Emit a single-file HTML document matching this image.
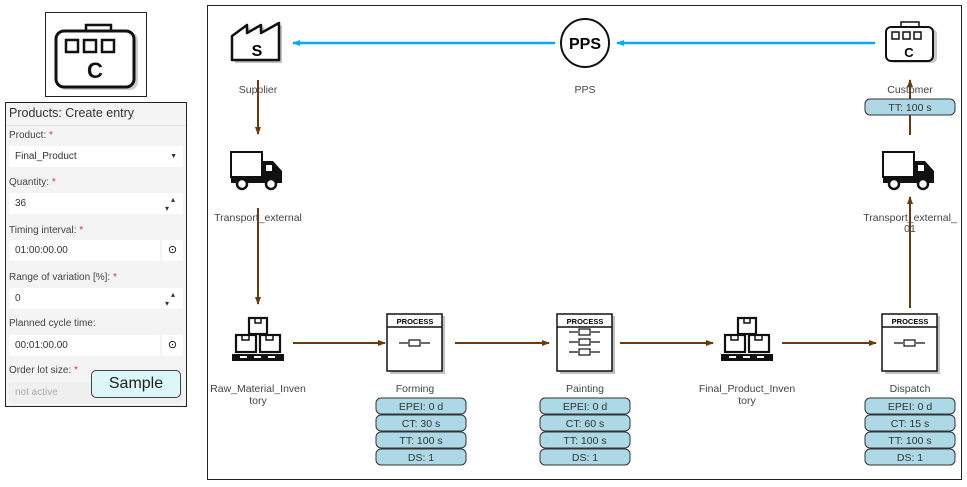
<!DOCTYPE html>
<html><head><meta charset="utf-8"><style>
body{margin:0;width:967px;height:487px;background:#fff;position:relative;overflow:hidden;font-family:"Liberation Sans",sans-serif}
.abs{position:absolute}
.panel{left:5px;top:102px;width:180px;height:303px;border:1px solid #222;background:#f4f4f4}
.lbl{position:absolute;left:3px;font-size:10px;color:#444}
.lbl b{color:#d33;font-weight:normal}
.inp{position:absolute;left:3px;width:174px;height:21px;background:#fff;border-radius:2px;font-size:10px;color:#333;line-height:21px;text-indent:6px}
.btn{position:absolute;left:156px;width:21px;height:21px;background:#fff;border-radius:2px;font-size:11px;text-align:center;line-height:21px}
</style></head><body>
<div class="abs" style="left:45px;top:12px;width:100px;height:83px;border:1px solid #222;background:#fff">
<svg width="100" height="83" viewBox="0 0 100 83">
<rect x="40" y="12" width="25" height="8" fill="#fff" stroke="#111" stroke-width="2.5"/>
<rect x="13" y="19" width="79" height="58" rx="8" fill="#888" opacity="0.4"/>
<rect x="10" y="18" width="78" height="56" rx="8" fill="#fff" stroke="#111" stroke-width="3"/>
<rect x="20" y="27" width="12" height="12" fill="#fff" stroke="#111" stroke-width="2.5"/>
<rect x="38" y="27" width="12" height="12" fill="#fff" stroke="#111" stroke-width="2.5"/>
<rect x="56" y="27" width="12" height="12" fill="#fff" stroke="#111" stroke-width="2.5"/>
<text x="49" y="65" font-size="22" font-weight="bold" text-anchor="middle" fill="#111" font-family="Liberation Sans">C</text>
</svg></div>
<div class="abs panel">
<div class="abs" style="left:3px;top:3px;font-size:12.5px;color:#333">Products: Create entry</div>
<div class="abs" style="left:0;top:22px;width:180px;height:1px;background:#e2e2e2"></div>
<div class="lbl" style="top:27px">Product: <b>*</b></div>
<div class="inp" style="top:43px">Final_Product<span style="position:absolute;right:6px;font-size:7px">▼</span></div>
<div class="lbl" style="top:74px">Quantity: <b>*</b></div>
<div class="inp" style="top:90px">36<span style="position:absolute;right:8px;font-size:8px;line-height:9px;top:2px">▴<br>▾</span></div>
<div class="lbl" style="top:122px">Timing interval: <b>*</b></div>
<div class="inp" style="top:137px;width:151px">01:00:00.00</div><div class="btn" style="top:137px">⊙</div>
<div class="lbl" style="top:169px">Range of variation [%]: <b>*</b></div>
<div class="inp" style="top:185px">0<span style="position:absolute;right:8px;font-size:8px;line-height:9px;top:2px">▴<br>▾</span></div>
<div class="lbl" style="top:215px">Planned cycle time:</div>
<div class="inp" style="top:232px;width:151px">00:01:00.00</div><div class="btn" style="top:232px">⊙</div>
<div class="lbl" style="top:262px">Order lot size: <b>*</b></div>
<div class="inp" style="top:279px;color:#aaa;background:#f0f0f0">not active</div>
<div class="abs" style="left:85px;top:267px;width:88px;height:26px;background:#dcf7f7;border:1px solid #444;border-radius:5px;font-size:16px;text-align:center;line-height:26px;color:#222">Sample</div>
</div>
<svg class="abs" style="left:0;top:0" width="967" height="487" viewBox="0 0 967 487" font-family="Liberation Sans" font-size="10.5">
<defs>
<marker id="b" markerWidth="8" markerHeight="8" refX="7" refY="4" orient="auto" markerUnits="userSpaceOnUse"><path d="M0,1 L8,4 L0,7z" fill="#0af"/></marker>
<marker id="r" markerWidth="8" markerHeight="8" refX="7" refY="4" orient="auto" markerUnits="userSpaceOnUse"><path d="M0,1 L8,4 L0,7z" fill="#6b3a0c"/></marker>
<g id="proc"><rect x="-25" y="-27" width="55" height="58" fill="#777" opacity=".45"/><rect x="-28" y="-29" width="55" height="57" fill="#fff" stroke="#111" stroke-width="1.5"/><line x1="-28" y1="-16" x2="27" y2="-16" stroke="#111" stroke-width="1.5"/><text x="0" y="-19" font-size="7.5" font-weight="bold" text-anchor="middle">PROCESS</text></g>
<g id="inv"><g fill="#fff" stroke="#111" stroke-width="2.2"><rect x="-9" y="-25" width="18" height="16"/><rect x="-22" y="-8" width="20" height="17"/><rect x="2" y="-8" width="20" height="17"/></g><rect x="-26" y="11" width="52" height="7" fill="#111"/><g fill="#fff"><rect x="-18" y="13" width="7" height="2"/><rect x="-4" y="13" width="7" height="2"/><rect x="10" y="13" width="7" height="2"/></g><path d="M-3,-25v5h6v-5M-16,-8v5h7v-5M8,-8v5h7v-5" fill="none" stroke="#111" stroke-width="1.5"/></g>
<g id="truck"><rect x="-26" y="-18" width="31" height="25" fill="#fff" stroke="#111" stroke-width="2"/><path d="M5,-9 H16 L25,1 V13 H-26 V7 H5z" fill="#111"/><rect x="9" y="-5" width="6" height="6" fill="#fff"/><circle cx="-15" cy="14" r="5" fill="#fff" stroke="#111" stroke-width="2.5"/><circle cx="14" cy="14" r="5" fill="#fff" stroke="#111" stroke-width="2.5"/></g>
<g id="pill"><rect x="-45" y="0" width="90" height="16" rx="5" fill="#add8e6" stroke="#333"/></g>
</defs>
<rect x="207.5" y="5.5" width="754" height="474" fill="none" stroke="#222"/>
<line x1="555" y1="43" x2="293" y2="43" stroke="#0af" stroke-width="2.5" marker-end="url(#b)"/>
<line x1="875" y1="43" x2="617" y2="43" stroke="#0af" stroke-width="2.5" marker-end="url(#b)"/>
<g stroke="#6b3a0c" stroke-width="2">
<line x1="258" y1="80" x2="258" y2="134" marker-end="url(#r)"/>
<line x1="258" y1="208" x2="258" y2="304" marker-end="url(#r)"/>
<line x1="293" y1="343" x2="385" y2="343" marker-end="url(#r)"/>
<line x1="455" y1="343" x2="549" y2="343" marker-end="url(#r)"/>
<line x1="620" y1="343" x2="713" y2="343" marker-end="url(#r)"/>
<line x1="782" y1="343" x2="876" y2="343" marker-end="url(#r)"/>
<line x1="910" y1="308" x2="910" y2="197" marker-end="url(#r)"/>
<line x1="910" y1="135" x2="910" y2="80" marker-end="url(#r)"/>
</g>
<!-- supplier -->
<path d="M235,38 L250,27 V35 L264,27 V35 L282,25 V63 H235z" fill="#777" opacity=".45"/>
<path d="M232,36 L247,25 V33 L261,25 V33 L279,23 V60 H232z" fill="#fff" stroke="#111" stroke-width="2.5" stroke-linejoin="round"/>
<text x="257" y="56" font-size="16" font-weight="bold" text-anchor="middle">S</text>
<!-- PPS -->
<circle cx="585" cy="43" r="24" fill="#fff" stroke="#111" stroke-width="2"/>
<text x="585" y="49" font-size="16" font-weight="bold" text-anchor="middle">PPS</text>
<!-- customer -->
<rect x="901" y="22" width="18" height="6" fill="#fff" stroke="#111" stroke-width="1.5"/>
<rect x="889" y="29" width="48" height="34" rx="5" fill="#888" opacity=".45"/>
<rect x="886" y="27" width="47" height="34" rx="5" fill="#fff" stroke="#111" stroke-width="2"/>
<rect x="892" y="32" width="7" height="7" fill="#fff" stroke="#111" stroke-width="1.5"/>
<rect x="903" y="32" width="7" height="7" fill="#fff" stroke="#111" stroke-width="1.5"/>
<rect x="914" y="32" width="7" height="7" fill="#fff" stroke="#111" stroke-width="1.5"/>
<text x="909" y="57" font-size="13" font-weight="bold" text-anchor="middle">C</text>
<use href="#truck" x="257" y="170"/>
<use href="#truck" x="909" y="170"/>
<use href="#inv" x="258" y="343"/>
<use href="#inv" x="747" y="343"/>
<use href="#proc" x="415" y="343"/><use href="#proc" x="585" y="343"/><use href="#proc" x="910" y="343"/>
<g fill="none" stroke="#111" stroke-width="1.2">
<rect x="409" y="340" width="11" height="6"/><path d="M399,343h9M421,343h9"/>
<rect x="904" y="340" width="11" height="6"/><path d="M894,343h9M916,343h9"/>
<rect x="579" y="329" width="11" height="6"/><rect x="579" y="339" width="11" height="6"/><rect x="579" y="349" width="11" height="6"/>
<path d="M569,332h9M591,332h9M569,342h9M591,342h9M569,352h9M591,352h9"/>
</g>
<g fill="#444" text-anchor="middle">
<text x="258" y="93">Supplier</text><text x="585" y="93">PPS</text><text x="910" y="93">Customer</text>
<text x="258" y="221">Transport_external</text><text x="910" y="221">Transport_external_</text><text x="910" y="232">01</text>
<text x="258" y="392">Raw_Material_Inven</text><text x="258" y="404">tory</text>
<text x="415" y="392">Forming</text><text x="585" y="392">Painting</text>
<text x="747" y="392">Final_Product_Inven</text><text x="747" y="404">tory</text><text x="910" y="392">Dispatch</text>
</g>
<use href="#pill" x="910" y="99"/><text x="910" y="111" text-anchor="middle" fill="#333">TT: 100 s</text>
<g text-anchor="middle" fill="#333">
<use href="#pill" x="421" y="398"/><use href="#pill" x="421" y="415"/><use href="#pill" x="421" y="432"/><use href="#pill" x="421" y="449"/>
<text x="421" y="410">EPEI: 0 d</text><text x="421" y="427">CT: 30 s</text><text x="421" y="444">TT: 100 s</text><text x="421" y="461">DS: 1</text>
<use href="#pill" x="585" y="398"/><use href="#pill" x="585" y="415"/><use href="#pill" x="585" y="432"/><use href="#pill" x="585" y="449"/>
<text x="585" y="410">EPEI: 0 d</text><text x="585" y="427">CT: 60 s</text><text x="585" y="444">TT: 100 s</text><text x="585" y="461">DS: 1</text>
<use href="#pill" x="910" y="398"/><use href="#pill" x="910" y="415"/><use href="#pill" x="910" y="432"/><use href="#pill" x="910" y="449"/>
<text x="910" y="410">EPEI: 0 d</text><text x="910" y="427">CT: 15 s</text><text x="910" y="444">TT: 100 s</text><text x="910" y="461">DS: 1</text>
</g>
</svg>
</body></html>
